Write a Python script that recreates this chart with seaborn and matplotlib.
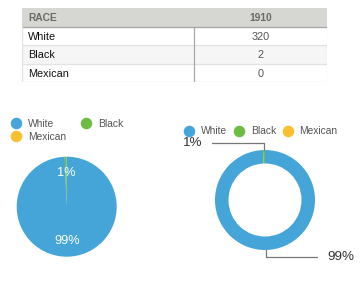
import matplotlib
matplotlib.use("Agg")
from matplotlib import pyplot as plt
from matplotlib.lines import Line2D
import numpy as np
import seaborn as sns

# data
races = ["White", "Black", "Mexican"]
counts = [320, 2, 0]
year_label = "1910"
colors = ["#45a5d8", "#6dbd45", "#f7c02f"]

sns.set_style("white")
plt.rcParams["font.family"] = ["Liberation Sans", "DejaVu Sans"]

W, H = 361, 301
fig = plt.figure(figsize=(W / 100, H / 100), dpi=100)


def px_rect(x0, y0, x1, y1):
    # pixel box (top-left origin) -> figure fraction
    return [x0 / W, (H - y1) / H, (x1 - x0) / W, (y1 - y0) / H]


# ---- table ----
ax_t = fig.add_axes(px_rect(22.3, 8.3, 327.3, 82.3))
n_rows = len(races) + 1
ax_t.set_xlim(0, 1)
ax_t.set_ylim(n_rows, 0)
ax_t.axis("off")
split = 0.564
ax_t.add_patch(plt.Rectangle((0, 0), 1, 1, facecolor="#d6d6d3", edgecolor="none"))
for i, (race, cnt) in enumerate(zip(races, counts)):
    y = i + 1
    bg = "#f6f6f6" if i % 2 == 1 else "white"
    ax_t.add_patch(plt.Rectangle((0, y), 1, 1, facecolor=bg, edgecolor="none"))
    ax_t.text(0.02, y + 0.55, race, ha="left", va="center", fontsize=7.8, color="#111111")
    ax_t.text((split + 1) / 2, y + 0.55, str(cnt), ha="center", va="center",
              fontsize=7.8, color="#555555")
    ax_t.plot([0, 1], [y + 1, y + 1], color="#e2e2e2", lw=0.9)
ax_t.plot([0, 1], [1, 1], color="#a9a9a9", lw=1.0)
ax_t.plot([split, split], [1, n_rows], color="#a9a9a9", lw=0.9)
ax_t.plot([0, 0], [1, n_rows], color="#e2e2e2", lw=0.9)
ax_t.plot([1, 1], [1, n_rows], color="#e2e2e2", lw=0.9)
ax_t.text(0.02, 0.55, "RACE", ha="left", va="center", fontsize=7.4, color="#6a6a6a",
          fontweight="bold")
ax_t.text((split + 1) / 2, 0.55, year_label, ha="center", va="center", fontsize=7.4,
          color="#6a6a6a", fontweight="bold")

handles = [Line2D([], [], marker="o", ls="none", markersize=7.3, color=c) for c in colors]

# ---- left pie ----
ax1 = fig.add_axes(px_rect(66.7 - 60, 206.7 - 60, 66.7 + 60, 206.7 + 60))
ax1.pie(counts, colors=colors, startangle=90, counterclock=False,
        autopct=lambda p: f"{p:.0f}%" if p > 0.3 else "", pctdistance=0.68,
        textprops=dict(color="white", fontsize=9.2),
        wedgeprops=dict(linewidth=0))
ax1.set_xlim(-1.2, 1.2)
ax1.set_ylim(-1.2, 1.2)
order = [0, 2, 1]
fig.legend([handles[i] for i in order], [races[i] for i in order], ncol=2,
           loc="upper left", bbox_to_anchor=(10.4 / W, 1 - 119 / H),
           frameon=False, fontsize=7.4, handlelength=1.1, handletextpad=0.6,
           columnspacing=1.4, labelspacing=0.3, borderpad=0, borderaxespad=0,
           labelcolor="#555555")

# ---- right donut ----
cx, cy = 265, 200
ax2 = fig.add_axes(px_rect(cx - 90, cy - 60, cx + 90, cy + 60))
wedges, _ = ax2.pie(counts, colors=colors, startangle=90, counterclock=False,
                    wedgeprops=dict(width=0.27, linewidth=0))
ax2.set_xlim(-1.8, 1.8)
ax2.set_ylim(-1.2, 1.2)
total = sum(counts)
for w, cnt in zip(wedges, counts):
    if cnt == 0:
        continue
    ang = np.deg2rad((w.theta1 + w.theta2) / 2)
    x, y = np.cos(ang), np.sin(ang)
    side = -1 if x <= 0 else 1
    ey = 1.14 * np.sign(y)
    tx = -1.26 if side < 0 else 1.24
    ax2.annotate(f"{cnt / total * 100:.0f}%", xy=(x, y), xytext=(tx, ey),
                 ha="right" if side < 0 else "left", va="center",
                 fontsize=9.6, color="#333333", annotation_clip=False,
                 arrowprops=dict(arrowstyle="-", color="#777777", lw=0.9,
                                 shrinkA=5, shrinkB=0,
                                 connectionstyle="angle,angleA=0,angleB=90,rad=0"))
fig.legend(handles, races, ncol=3, loc="upper left",
           bbox_to_anchor=(183.4 / W, 1 - 126.5 / H), frameon=False, fontsize=7.4,
           handlelength=1.1, handletextpad=0.6, columnspacing=0.6,
           borderpad=0, borderaxespad=0, labelcolor="#555555")

fig.savefig("out.png", dpi=100)
